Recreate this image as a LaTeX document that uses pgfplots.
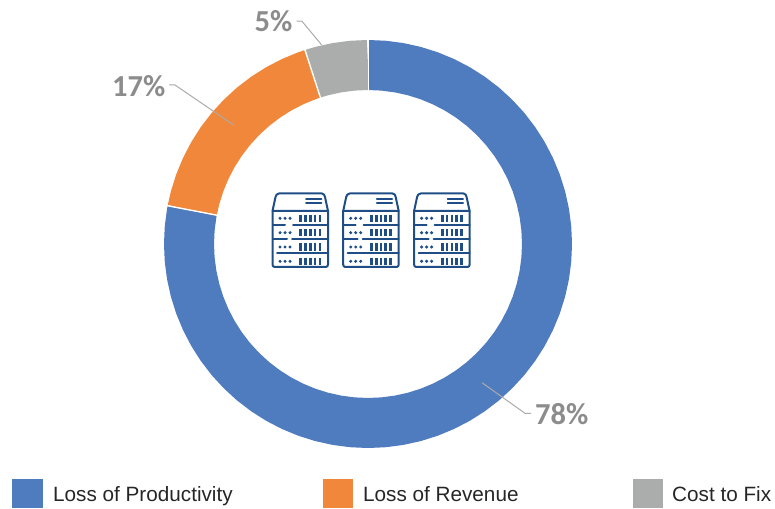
\documentclass[border=0pt]{standalone}
\usepackage{pgfplots}
\usepackage{fontspec}
\pgfplotsset{compat=1.18}
\setmainfont{Liberation Sans}
\newfontfamily\labfont{Carlito}[BoldFont={Carlito Bold}]
\definecolor{cblue}{HTML}{4F7BBF}
\definecolor{corange}{HTML}{F0873A}
\definecolor{cgrey}{HTML}{ABADAC}
\definecolor{cicon}{HTML}{1F4E86}
\definecolor{cleader}{HTML}{ABABAB}
\definecolor{clabel}{HTML}{8C8C8C}
\newcommand{\lab}[2]{\node[font=\labfont\bfseries\fontsize{30.5}{30}\selectfont,text=clabel,inner sep=0pt,anchor=base west] at (#1) {#2};}
\newcommand{\leg}[2]{\node[font=\fontsize{20.7}{24}\selectfont,text=black!85,inner sep=0pt,anchor=base west] at (#1) {#2};}
\newcommand{\servericon}[1]{%
\begin{scope}[yshift=508pt,xshift=#1pt,x=1pt,y=-1pt,draw=cicon,line width=2pt,line cap=round,line join=round]
 \draw (272.5,211) -- (275.5,197) to[out=75,in=180] (279,193.5) -- (322,193.5) to[out=0,in=105] (325,197) -- (328,211);
 \draw (272.5,211) -- (272.5,264.5) to[out=-90,in=180] (274.5,267) -- (326,267) to[out=0,in=-90] (328,264.5) -- (328,211) -- cycle;
 \draw (273,225) -- (285,225) (293,225) -- (328,225);
 \draw (273,239.3) -- (287,239.3) (292,239.3) -- (328,239.3);
 \draw (277,253.5) -- (328,253.5);
 \draw[line width=1.6pt] (306,199) -- (321.5,199) (306,203) -- (321.5,203);
 \foreach \y in {218.3,232.7,247,261.3}{
  \foreach \x in {280,285,290}{\fill[cicon] (\x,\y) circle[radius=1.7pt];}
  \foreach \x in {300.7,305.5,310.3,315.1,319.9}{\draw[line width=2.7pt,line cap=butt] (\x,\y-3.6) -- (\x,\y+3.6);}
 }
\end{scope}}
\begin{document}
\begin{tikzpicture}
\useasboundingbox (0,0) rectangle (775pt,508pt);
\begin{axis}[
  at={(0,0)}, anchor=south west,
  scale only axis, width=775pt, height=508pt,
  xmin=-368, xmax=407, ymin=-264, ymax=244,
  hide axis, clip=false,
]
% Loss of Productivity, 78%
\addplot[data cs=polar, cblue, line width=50pt, line join=round] coordinates {
(90,179)(85,179)(80,179)(75,179)(70,179)(65,179)(60,179)(55,179)(50,179)(45,179)
(40,179)(35,179)(30,179)(25,179)(20,179)(15,179)(10,179)(5,179)(0,179)
(-5,179)(-10,179)(-15,179)(-20,179)(-25,179)(-30,179)(-35,179)(-40,179)(-45,179)
(-50,179)(-55,179)(-60,179)(-65,179)(-70,179)(-75,179)(-80,179)(-85,179)(-90,179)
(-95,179)(-100,179)(-105,179)(-110,179)(-115,179)(-120,179)(-125,179)(-130,179)(-135,179)
(-140,179)(-145,179)(-150,179)(-155,179)(-160,179)(-165,179)(-170,179)(-175,179)(-180,179)
(-185,179)(-190,179)(-190.8,179)};
% Loss of Revenue, 17%
\addplot[data cs=polar, corange, line width=50pt, line join=round] coordinates {
(-190.8,179)(-195,179)(-200,179)(-205,179)(-210,179)(-215,179)(-220,179)(-225,179)
(-230,179)(-235,179)(-240,179)(-245,179)(-250,179)(-252,179)};
% Cost to Fix, 5%
\addplot[data cs=polar, cgrey, line width=50pt, line join=round] coordinates {
(-252,179)(-255,179)(-260,179)(-265,179)(-270,179)};
% slice separators
\addplot[data cs=polar, white, line width=1.4pt] coordinates {(-190.8,153)(-190.8,205)};
\addplot[data cs=polar, white, line width=1.4pt] coordinates {(-252,153)(-252,205)};
\addplot[data cs=polar, white, line width=0.8pt] coordinates {(90,153)(90,205)};
% leader lines
\addplot[cleader, line width=1pt] coordinates {(-71.3,223)(-66,222.7)(-46.3,199)};
\addplot[cleader, line width=1pt] coordinates {(-199,159)(-193,159)(-134,118.7)};
\addplot[cleader, line width=1pt] coordinates {(114,-138.7)(157,-169.3)(163,-169.3)};
% legend swatches
\addplot[fill=cblue, draw=none] coordinates {(-356,-235)(-325,-235)(-325,-264)(-356,-264)} --cycle;
\addplot[fill=corange, draw=none] coordinates {(-45,-235)(-15,-235)(-15,-264)(-45,-264)} --cycle;
\addplot[fill=cgrey, draw=none] coordinates {(265,-235)(295,-235)(295,-264)(265,-264)} --cycle;
\lab{axis cs:-113.5,212}{5\%}
\lab{axis cs:-256,147.5}{17\%}
\lab{axis cs:167,-181}{78\%}
\leg{axis cs:-315,-257}{Loss of Productivity}
\leg{axis cs:-5,-257}{Loss of Revenue}
\leg{axis cs:304,-257}{Cost to Fix}
\end{axis}
\servericon{0}
\servericon{70.7}
\servericon{141.6}
\end{tikzpicture}
\end{document}
